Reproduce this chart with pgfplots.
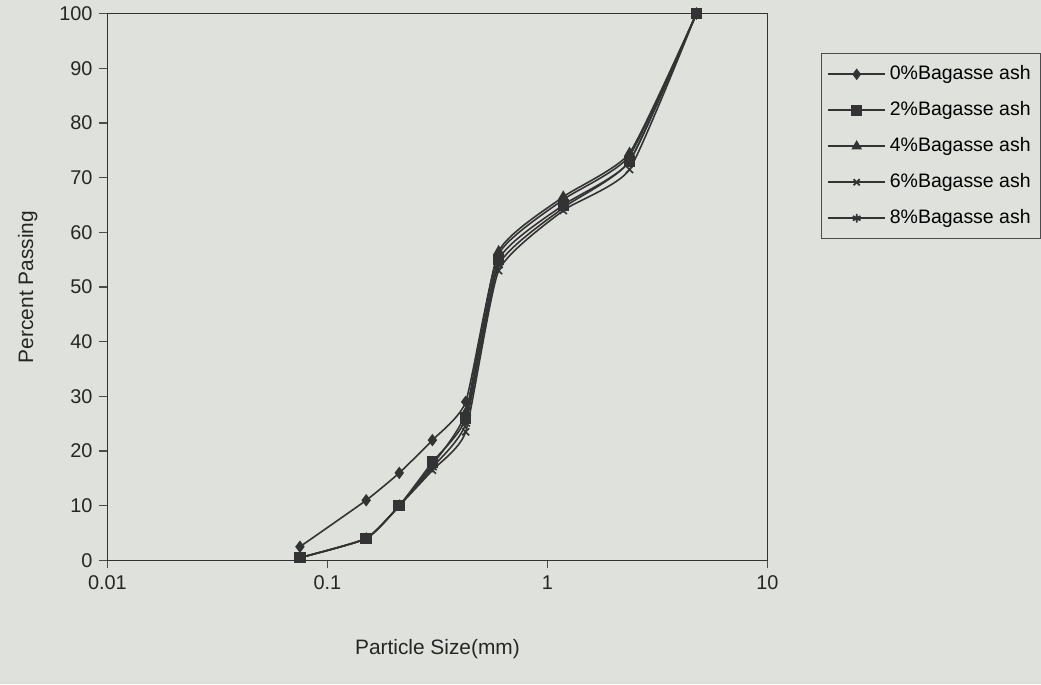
\documentclass[border=0pt]{standalone}
\usepackage{pgfplots}
\pgfplotsset{compat=1.18}
\usepackage{fontspec}
\setmainfont{Liberation Sans}
\usetikzlibrary{backgrounds}
\begin{document}
\begin{tikzpicture}[background rectangle/.style={fill={rgb,255:red,223;green,225;blue,220}}, show background rectangle, inner frame sep=0pt]
\begin{axis}[
  scale only axis, width=332pt, height=275pt,
  xmode=log, xmin=0.01, xmax=10, ymin=0, ymax=100,
  ytick={0,10,...,100}, xtick={0.01,0.1,1,10},
  xticklabels={0.01,0.1,1,10},
  tick align=outside, major tick length=4pt, minor tick length=0pt,
  xtick pos=left, ytick pos=left,
  xtick style={draw=black!70, line width=0.6pt},
  ytick style={draw=black!70, line width=0.6pt},
  minor tick style={draw=none},
  /pgf/number format/assume math mode=true,
  tick label style={font=\fontsize{10}{12}\selectfont, text=black!85},
  label style={font=\fontsize{10.5}{12}\selectfont, text=black!85},
  xlabel={Particle Size(mm)}, ylabel={Percent Passing},
  xlabel style={yshift=-18pt, text depth=12pt},
  ylabel style={yshift=-1.5pt, inner ysep=9pt},
  axis line style={black!80, line width=0.7pt},
  legend style={at={(1,1)}, anchor=north west, xshift=27pt, yshift=-20pt,
    draw=black!70, fill=none, font=\fontsize{9.8}{11}\selectfont, row sep=5.5pt, inner xsep=3pt, inner ysep=4pt},
  legend cell align=left,
  legend image code/.code={\draw[#1, line width=0.9pt, mark size=2.2pt, mark repeat=2,mark phase=2, sharp plot] plot coordinates {(0cm,0cm) (0.5cm,0cm) (1cm,0cm)};},
  every axis plot/.append style={black!80, line width=0.8pt, smooth, tension=0.3, mark size=2.5pt},
]
\addplot[mark=diamond*, mark options={fill=black!80, solid}] coordinates {
 (0.075,2.5) (0.15,11) (0.212,16) (0.3,22) (0.425,29) (0.6,56) (1.18,66) (2.36,74) (4.75,100)};
\addlegendentry{0\%Bagasse ash}
\addplot[mark=square*, mark options={fill=black!80, solid}] coordinates {
 (0.075,0.5) (0.15,4) (0.212,10) (0.3,18) (0.425,26) (0.6,55) (1.18,65) (2.36,73) (4.75,100)};
\addlegendentry{2\%Bagasse ash}
\addplot[mark=triangle*, mark options={fill=black!80, solid}] coordinates {
 (0.075,0.5) (0.15,4) (0.212,10) (0.3,17.5) (0.425,27) (0.6,56.5) (1.18,66.5) (2.36,74.5) (4.75,100)};
\addlegendentry{4\%Bagasse ash}
\addplot[mark=x, mark options={solid}] coordinates {
 (0.075,0.5) (0.15,4) (0.212,10) (0.3,16.5) (0.425,23.5) (0.6,53) (1.18,64) (2.36,71.5) (4.75,100)};
\addlegendentry{6\%Bagasse ash}
\addplot[mark=asterisk, mark options={solid}] coordinates {
 (0.075,0.5) (0.15,4) (0.212,10) (0.3,17) (0.425,25) (0.6,54) (1.18,64.5) (2.36,73) (4.75,100)};
\addlegendentry{8\%Bagasse ash}
\end{axis}
\end{tikzpicture}
\end{document}
